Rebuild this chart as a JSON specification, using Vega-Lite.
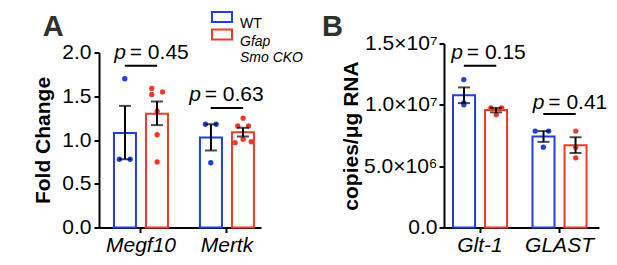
{
  "$schema": "https://vega.github.io/schema/vega-lite/v6.json",
  "background": "white",
  "padding": {"left": 32, "top": 5.5, "right": 0, "bottom": 0},
  "bounds": "flush",
  "spacing": 183,
  "datasets": {
    "sumA": [
      {"gene": "Megf10", "group": "WT", "mean": 1.08, "lo": 0.78, "hi": 1.39},
      {"gene": "Megf10", "group": "CKO", "mean": 1.30, "lo": 1.17, "hi": 1.44},
      {"gene": "Mertk", "group": "WT", "mean": 1.03, "lo": 0.88, "hi": 1.18},
      {"gene": "Mertk", "group": "CKO", "mean": 1.09, "lo": 1.04, "hi": 1.14}
    ],
    "ptsA": [
      {"gene": "Megf10", "group": "WT", "slot": "WT0", "value": 1.70},
      {"gene": "Megf10", "group": "WT", "slot": "WT-2", "value": 0.78},
      {"gene": "Megf10", "group": "WT", "slot": "WT+2", "value": 0.78},
      {"gene": "Megf10", "group": "CKO", "slot": "CKO-2", "value": 1.59},
      {"gene": "Megf10", "group": "CKO", "slot": "CKO-2", "value": 1.52},
      {"gene": "Megf10", "group": "CKO", "slot": "CKO+2", "value": 1.55},
      {"gene": "Megf10", "group": "CKO", "slot": "CKO0", "value": 1.33},
      {"gene": "Megf10", "group": "CKO", "slot": "CKO0", "value": 1.06},
      {"gene": "Megf10", "group": "CKO", "slot": "CKO0", "value": 0.75},
      {"gene": "Mertk", "group": "WT", "slot": "WT-2", "value": 1.18},
      {"gene": "Mertk", "group": "WT", "slot": "WT+2", "value": 1.18},
      {"gene": "Mertk", "group": "WT", "slot": "WT0", "value": 0.74},
      {"gene": "Mertk", "group": "CKO", "slot": "CKO0", "value": 1.25},
      {"gene": "Mertk", "group": "CKO", "slot": "CKO-2", "value": 1.16},
      {"gene": "Mertk", "group": "CKO", "slot": "CKO+2", "value": 1.16},
      {"gene": "Mertk", "group": "CKO", "slot": "CKO-3", "value": 0.97},
      {"gene": "Mertk", "group": "CKO", "slot": "CKO0", "value": 1.01},
      {"gene": "Mertk", "group": "CKO", "slot": "CKO+3", "value": 0.98}
    ],
    "lineA": [
      {"gene": "Megf10", "slot": "WT0", "y": 1.85},
      {"gene": "Megf10", "slot": "CKO0", "y": 1.85},
      {"gene": "Mertk", "slot": "WT0", "y": 1.365},
      {"gene": "Mertk", "slot": "CKO0", "y": 1.365}
    ],
    "txtA": [
      {"gene": "Megf10", "slot": "WT0", "y": 1.925, "p": "p", "val": "= 0.45"},
      {"gene": "Mertk", "slot": "WT0", "y": 1.448, "p": "p", "val": "= 0.63"}
    ],
    "sumB": [
      {"gene": "Glt-1", "group": "WT", "mean": 10780000, "lo": 10140000, "hi": 11420000},
      {"gene": "Glt-1", "group": "CKO", "mean": 9570000, "lo": 9390000, "hi": 9750000},
      {"gene": "GLAST", "group": "WT", "mean": 7420000, "lo": 6980000, "hi": 7860000},
      {"gene": "GLAST", "group": "CKO", "mean": 6700000, "lo": 6070000, "hi": 7350000}
    ],
    "ptsB": [
      {"gene": "Glt-1", "group": "WT", "slot": "WT0", "value": 12060000},
      {"gene": "Glt-1", "group": "WT", "slot": "WT0", "value": 10150000},
      {"gene": "Glt-1", "group": "WT", "slot": "WT0", "value": 10000000},
      {"gene": "Glt-1", "group": "CKO", "slot": "CKO-2", "value": 9750000},
      {"gene": "Glt-1", "group": "CKO", "slot": "CKO+2", "value": 9750000},
      {"gene": "Glt-1", "group": "CKO", "slot": "CKO0", "value": 9200000},
      {"gene": "GLAST", "group": "WT", "slot": "WT-3", "value": 7860000},
      {"gene": "GLAST", "group": "WT", "slot": "WT+2", "value": 7860000},
      {"gene": "GLAST", "group": "WT", "slot": "WT0", "value": 6550000},
      {"gene": "GLAST", "group": "CKO", "slot": "CKO0", "value": 7860000},
      {"gene": "GLAST", "group": "CKO", "slot": "CKO0", "value": 6550000},
      {"gene": "GLAST", "group": "CKO", "slot": "CKO0", "value": 5680000}
    ],
    "lineB": [
      {"gene": "Glt-1", "slot": "WT0", "y": 13180000},
      {"gene": "Glt-1", "slot": "CKO0", "y": 13180000},
      {"gene": "GLAST", "slot": "WT0", "y": 9250000},
      {"gene": "GLAST", "slot": "CKO0", "y": 9250000}
    ],
    "txtB": [
      {"gene": "Glt-1", "slot": "WT0", "y": 13730000, "p": "p", "val": "= 0.15"},
      {"gene": "GLAST", "slot": "WT0", "y": 9700000, "p": "p", "val": "= 0.41"}
    ]
  },
  "resolve": {
    "scale": {"stroke": "independent"},
    "legend": {"stroke": "independent"}
  },
  "hconcat": [
    {
      "width": 162,
      "height": 184,
      "title": {"text": "A", "anchor": "start", "frame": "bounds", "fontSize": 29, "fontWeight": "bold", "color": "#303030", "dx": 10, "offset": -36},
      "resolve": {"scale": {"xOffset": "independent"}},
      "encoding": {
        "x": {
          "field": "gene", "type": "nominal", "sort": ["Megf10", "Mertk"],
          "scale": {"paddingInner": 0.372, "paddingOuter": 0.128, "align": 0.68},
          "axis": {"title": null, "labelAngle": 0, "labelFontStyle": "italic", "labelPadding": 2}
        }
      },
      "layer": [
        {
          "data": {"name": "sumA"},
          "mark": {"type": "bar", "fill": "white", "strokeWidth": 2},
          "encoding": {
            "xOffset": {"field": "group", "type": "nominal", "scale": {"domain": ["WT", "CKO"], "paddingInner": 0.3125, "paddingOuter": 0}},
            "y": {
              "field": "mean", "type": "quantitative",
              "scale": {"domain": [0, 2], "range": [184, 9], "nice": false},
              "axis": {"title": "Fold Change", "values": [0, 0.5, 1, 1.5, 2], "format": ".1f", "labelPadding": 3, "titlePadding": 8}
            },
            "stroke": {
              "field": "group", "type": "nominal",
              "scale": {"domain": ["WT", "CKO"], "range": ["#1f3fe0", "#ee3a26"]},
              "legend": {
                "orient": "none", "legendX": 112, "legendY": -37.5, "title": null, "values": ["WT"],
                "symbolType": "M-1,-0.5H1V0.5H-1Z", "symbolSize": 400, "symbolStrokeWidth": 2,
                "symbolFillColor": "white", "labelFontSize": 14, "labelColor": "black",
                "labelBaseline": "top", "labelOffset": 7, "padding": 0,
                "encode": {
                  "symbols": {"fill": {"value": "white"}, "strokeWidth": {"value": 2}},
                  "labels": {"dy": {"value": -8}}
                }
              }
            }
          }
        },
        {
          "data": {"name": "ptsA"},
          "transform": [{"filter": "datum.group == 'WT'"}],
          "mark": {"type": "circle", "size": 28, "opacity": 1, "color": "#1f3fe0"},
          "encoding": {
            "xOffset": {"field": "slot", "type": "nominal", "scale": {"type": "point", "padding": 1.125, "domain": ["WT-3","WT-2","WT-1","WT0","WT+1","WT+2","WT+3","g1","g2","g3","g4","g5","CKO-3","CKO-2","CKO-1","CKO0","CKO+1","CKO+2","CKO+3"]}},
            "y": {"field": "value", "type": "quantitative"}
          }
        },
        {
          "data": {"name": "ptsA"},
          "transform": [{"filter": "datum.group == 'CKO'"}],
          "mark": {"type": "circle", "size": 28, "opacity": 1, "color": "#ee3a26"},
          "encoding": {
            "xOffset": {"field": "slot", "type": "nominal", "scale": {"type": "point", "padding": 1.125, "domain": ["WT-3","WT-2","WT-1","WT0","WT+1","WT+2","WT+3","g1","g2","g3","g4","g5","CKO-3","CKO-2","CKO-1","CKO0","CKO+1","CKO+2","CKO+3"]}},
            "y": {"field": "value", "type": "quantitative"}
          }
        },
        {
          "data": {"name": "sumA"},
          "mark": {"type": "rule", "color": "black", "strokeWidth": 2},
          "encoding": {
            "xOffset": {"field": "group", "type": "nominal", "scale": {"domain": ["WT", "CKO"], "paddingInner": 0.3125, "paddingOuter": 0}},
            "y": {"field": "lo", "type": "quantitative"},
            "y2": {"field": "hi"}
          }
        },
        {
          "data": {"name": "sumA"},
          "mark": {"type": "tick", "color": "black", "size": 12, "thickness": 2},
          "encoding": {
            "xOffset": {"field": "group", "type": "nominal", "scale": {"domain": ["WT", "CKO"], "paddingInner": 0.3125, "paddingOuter": 0}},
            "y": {"field": "lo", "type": "quantitative"}
          }
        },
        {
          "data": {"name": "sumA"},
          "mark": {"type": "tick", "color": "black", "size": 12, "thickness": 2},
          "encoding": {
            "xOffset": {"field": "group", "type": "nominal", "scale": {"domain": ["WT", "CKO"], "paddingInner": 0.3125, "paddingOuter": 0}},
            "y": {"field": "hi", "type": "quantitative"}
          }
        },
        {
          "data": {"name": "lineA"},
          "mark": {"type": "line", "color": "black", "strokeWidth": 2},
          "encoding": {
            "xOffset": {"field": "slot", "type": "nominal", "scale": {"type": "point", "padding": 1.125, "domain": ["WT-3","WT-2","WT-1","WT0","WT+1","WT+2","WT+3","g1","g2","g3","g4","g5","CKO-3","CKO-2","CKO-1","CKO0","CKO+1","CKO+2","CKO+3"]}},
            "y": {"field": "y", "type": "quantitative"},
            "detail": {"field": "gene"}
          }
        },
        {
          "data": {"name": "txtA"},
          "transform": [{"filter": "datum.gene == 'Megf10'"}],
          "mark": {"type": "text", "fontSize": 21, "fontStyle": "italic", "align": "left", "baseline": "alphabetic", "dx": -10.5, "color": "black"},
          "encoding": {
            "xOffset": {"field": "slot", "type": "nominal", "scale": {"type": "point", "padding": 1.125, "domain": ["WT-3","WT-2","WT-1","WT0","WT+1","WT+2","WT+3","g1","g2","g3","g4","g5","CKO-3","CKO-2","CKO-1","CKO0","CKO+1","CKO+2","CKO+3"]}},
            "y": {"field": "y", "type": "quantitative"},
            "text": {"field": "p"}
          }
        },
        {
          "data": {"name": "txtA"},
          "transform": [{"filter": "datum.gene == 'Megf10'"}],
          "mark": {"type": "text", "fontSize": 21, "align": "left", "baseline": "alphabetic", "dx": 5, "color": "black"},
          "encoding": {
            "xOffset": {"field": "slot", "type": "nominal", "scale": {"type": "point", "padding": 1.125, "domain": ["WT-3","WT-2","WT-1","WT0","WT+1","WT+2","WT+3","g1","g2","g3","g4","g5","CKO-3","CKO-2","CKO-1","CKO0","CKO+1","CKO+2","CKO+3"]}},
            "y": {"field": "y", "type": "quantitative"},
            "text": {"field": "val"}
          }
        },
        {
          "data": {"name": "txtA"},
          "transform": [{"filter": "datum.gene == 'Mertk'"}],
          "mark": {"type": "text", "fontSize": 21, "fontStyle": "italic", "align": "left", "baseline": "alphabetic", "dx": -21.5, "color": "black"},
          "encoding": {
            "xOffset": {"field": "slot", "type": "nominal", "scale": {"type": "point", "padding": 1.125, "domain": ["WT-3","WT-2","WT-1","WT0","WT+1","WT+2","WT+3","g1","g2","g3","g4","g5","CKO-3","CKO-2","CKO-1","CKO0","CKO+1","CKO+2","CKO+3"]}},
            "y": {"field": "y", "type": "quantitative"},
            "text": {"field": "p"}
          }
        },
        {
          "data": {"name": "txtA"},
          "transform": [{"filter": "datum.gene == 'Mertk'"}],
          "mark": {"type": "text", "fontSize": 21, "align": "left", "baseline": "alphabetic", "dx": -6, "color": "black"},
          "encoding": {
            "xOffset": {"field": "slot", "type": "nominal", "scale": {"type": "point", "padding": 1.125, "domain": ["WT-3","WT-2","WT-1","WT0","WT+1","WT+2","WT+3","g1","g2","g3","g4","g5","CKO-3","CKO-2","CKO-1","CKO0","CKO+1","CKO+2","CKO+3"]}},
            "y": {"field": "y", "type": "quantitative"},
            "text": {"field": "val"}
          }
        }
      ]
    },
    {
      "width": 155,
      "height": 184,
      "title": {"text": "B", "anchor": "start", "frame": "group", "fontSize": 29, "fontWeight": "bold", "color": "#303030", "dx": -122, "offset": -18},
      "resolve": {"scale": {"xOffset": "independent"}},
      "encoding": {
        "x": {
          "field": "gene", "type": "nominal", "sort": ["Glt-1", "GLAST"],
          "scale": {"paddingInner": 0.32, "paddingOuter": 0.135, "align": 0.42},
          "axis": {"title": null, "labelAngle": 0, "labelFontStyle": "italic", "labelPadding": 2}
        }
      },
      "layer": [
        {
          "data": {"name": "sumB"},
          "mark": {"type": "bar", "fill": "white", "strokeWidth": 2},
          "encoding": {
            "xOffset": {"field": "group", "type": "nominal", "scale": {"domain": ["WT", "CKO"], "paddingInner": 0.3125, "paddingOuter": 0}},
            "y": {
              "field": "mean", "type": "quantitative",
              "scale": {"domain": [0, 15000000], "nice": false},
              "axis": {"title": "copies/μg RNA", "values": [0, 5000000, 10000000, 15000000], "labelExpr": "datum.value == 0 ? '0.0' : datum.value == 5000000 ? '5.0×10⁶' : datum.value == 10000000 ? '1.0×10⁷' : '1.5×10⁷'", "labelPadding": 2, "titlePadding": 2}
            },
            "stroke": {
              "field": "group", "type": "nominal",
              "scale": {"domain": ["WT", "CKO"], "range": ["#1f3fe0", "#ee3a26"]},
              "legend": {
                "orient": "none", "legendX": -233, "legendY": -20, "title": null, "values": ["CKO"],
                "symbolType": "M-1,-0.5H1V0.5H-1Z", "symbolSize": 400, "symbolStrokeWidth": 2,
                "symbolFillColor": "white", "labelFontSize": 14, "labelColor": "black", "labelFontStyle": "italic",
                "labelExpr": "['Gfap', 'Smo CKO']",
                "labelBaseline": "top", "labelOffset": 7, "padding": 0,
                "encode": {
                  "symbols": {"fill": {"value": "white"}, "strokeWidth": {"value": 2}},
                  "labels": {"dy": {"value": -8}, "lineHeight": {"value": 16}}
                }
              }
            }
          }
        },
        {
          "data": {"name": "ptsB"},
          "transform": [{"filter": "datum.group == 'WT'"}],
          "mark": {"type": "circle", "size": 28, "opacity": 1, "color": "#1f3fe0"},
          "encoding": {
            "xOffset": {"field": "slot", "type": "nominal", "scale": {"type": "point", "padding": 1.125, "domain": ["WT-3","WT-2","WT-1","WT0","WT+1","WT+2","WT+3","g1","g2","g3","g4","g5","CKO-3","CKO-2","CKO-1","CKO0","CKO+1","CKO+2","CKO+3"]}},
            "y": {"field": "value", "type": "quantitative"}
          }
        },
        {
          "data": {"name": "ptsB"},
          "transform": [{"filter": "datum.group == 'CKO'"}],
          "mark": {"type": "circle", "size": 28, "opacity": 1, "color": "#ee3a26"},
          "encoding": {
            "xOffset": {"field": "slot", "type": "nominal", "scale": {"type": "point", "padding": 1.125, "domain": ["WT-3","WT-2","WT-1","WT0","WT+1","WT+2","WT+3","g1","g2","g3","g4","g5","CKO-3","CKO-2","CKO-1","CKO0","CKO+1","CKO+2","CKO+3"]}},
            "y": {"field": "value", "type": "quantitative"}
          }
        },
        {
          "data": {"name": "sumB"},
          "mark": {"type": "rule", "color": "black", "strokeWidth": 2},
          "encoding": {
            "xOffset": {"field": "group", "type": "nominal", "scale": {"domain": ["WT", "CKO"], "paddingInner": 0.3125, "paddingOuter": 0}},
            "y": {"field": "lo", "type": "quantitative"},
            "y2": {"field": "hi"}
          }
        },
        {
          "data": {"name": "sumB"},
          "mark": {"type": "tick", "color": "black", "size": 12, "thickness": 2},
          "encoding": {
            "xOffset": {"field": "group", "type": "nominal", "scale": {"domain": ["WT", "CKO"], "paddingInner": 0.3125, "paddingOuter": 0}},
            "y": {"field": "lo", "type": "quantitative"}
          }
        },
        {
          "data": {"name": "sumB"},
          "mark": {"type": "tick", "color": "black", "size": 12, "thickness": 2},
          "encoding": {
            "xOffset": {"field": "group", "type": "nominal", "scale": {"domain": ["WT", "CKO"], "paddingInner": 0.3125, "paddingOuter": 0}},
            "y": {"field": "hi", "type": "quantitative"}
          }
        },
        {
          "data": {"name": "lineB"},
          "mark": {"type": "line", "color": "black", "strokeWidth": 2},
          "encoding": {
            "xOffset": {"field": "slot", "type": "nominal", "scale": {"type": "point", "padding": 1.125, "domain": ["WT-3","WT-2","WT-1","WT0","WT+1","WT+2","WT+3","g1","g2","g3","g4","g5","CKO-3","CKO-2","CKO-1","CKO0","CKO+1","CKO+2","CKO+3"]}},
            "y": {"field": "y", "type": "quantitative"},
            "detail": {"field": "gene"}
          }
        },
        {
          "data": {"name": "txtB"},
          "transform": [{"filter": "datum.gene == 'Glt-1'"}],
          "mark": {"type": "text", "fontSize": 21, "fontStyle": "italic", "align": "left", "baseline": "alphabetic", "dx": -12.5, "color": "black"},
          "encoding": {
            "xOffset": {"field": "slot", "type": "nominal", "scale": {"type": "point", "padding": 1.125, "domain": ["WT-3","WT-2","WT-1","WT0","WT+1","WT+2","WT+3","g1","g2","g3","g4","g5","CKO-3","CKO-2","CKO-1","CKO0","CKO+1","CKO+2","CKO+3"]}},
            "y": {"field": "y", "type": "quantitative"},
            "text": {"field": "p"}
          }
        },
        {
          "data": {"name": "txtB"},
          "transform": [{"filter": "datum.gene == 'Glt-1'"}],
          "mark": {"type": "text", "fontSize": 21, "align": "left", "baseline": "alphabetic", "dx": 3, "color": "black"},
          "encoding": {
            "xOffset": {"field": "slot", "type": "nominal", "scale": {"type": "point", "padding": 1.125, "domain": ["WT-3","WT-2","WT-1","WT0","WT+1","WT+2","WT+3","g1","g2","g3","g4","g5","CKO-3","CKO-2","CKO-1","CKO0","CKO+1","CKO+2","CKO+3"]}},
            "y": {"field": "y", "type": "quantitative"},
            "text": {"field": "val"}
          }
        },
        {
          "data": {"name": "txtB"},
          "transform": [{"filter": "datum.gene == 'GLAST'"}],
          "mark": {"type": "text", "fontSize": 21, "fontStyle": "italic", "align": "left", "baseline": "alphabetic", "dx": -10.5, "color": "black"},
          "encoding": {
            "xOffset": {"field": "slot", "type": "nominal", "scale": {"type": "point", "padding": 1.125, "domain": ["WT-3","WT-2","WT-1","WT0","WT+1","WT+2","WT+3","g1","g2","g3","g4","g5","CKO-3","CKO-2","CKO-1","CKO0","CKO+1","CKO+2","CKO+3"]}},
            "y": {"field": "y", "type": "quantitative"},
            "text": {"field": "p"}
          }
        },
        {
          "data": {"name": "txtB"},
          "transform": [{"filter": "datum.gene == 'GLAST'"}],
          "mark": {"type": "text", "fontSize": 21, "align": "left", "baseline": "alphabetic", "dx": 5, "color": "black"},
          "encoding": {
            "xOffset": {"field": "slot", "type": "nominal", "scale": {"type": "point", "padding": 1.125, "domain": ["WT-3","WT-2","WT-1","WT0","WT+1","WT+2","WT+3","g1","g2","g3","g4","g5","CKO-3","CKO-2","CKO-1","CKO0","CKO+1","CKO+2","CKO+3"]}},
            "y": {"field": "y", "type": "quantitative"},
            "text": {"field": "val"}
          }
        }
      ]
    }
  ],
  "config": {
    "font": "Liberation Sans",
    "view": {"stroke": null},
    "axis": {
      "domainColor": "black", "domainWidth": 2, "tickColor": "black", "tickWidth": 2, "tickSize": 5,
      "labelColor": "black", "labelFontSize": 21, "labelFont": "Liberation Sans",
      "titleFont": "Liberation Sans", "titleFontSize": 21, "titleFontWeight": "bold", "titleColor": "black",
      "grid": false
    },
    "legend": {"labelFont": "Liberation Sans"},
    "title": {"font": "Liberation Sans"}
  }
}
